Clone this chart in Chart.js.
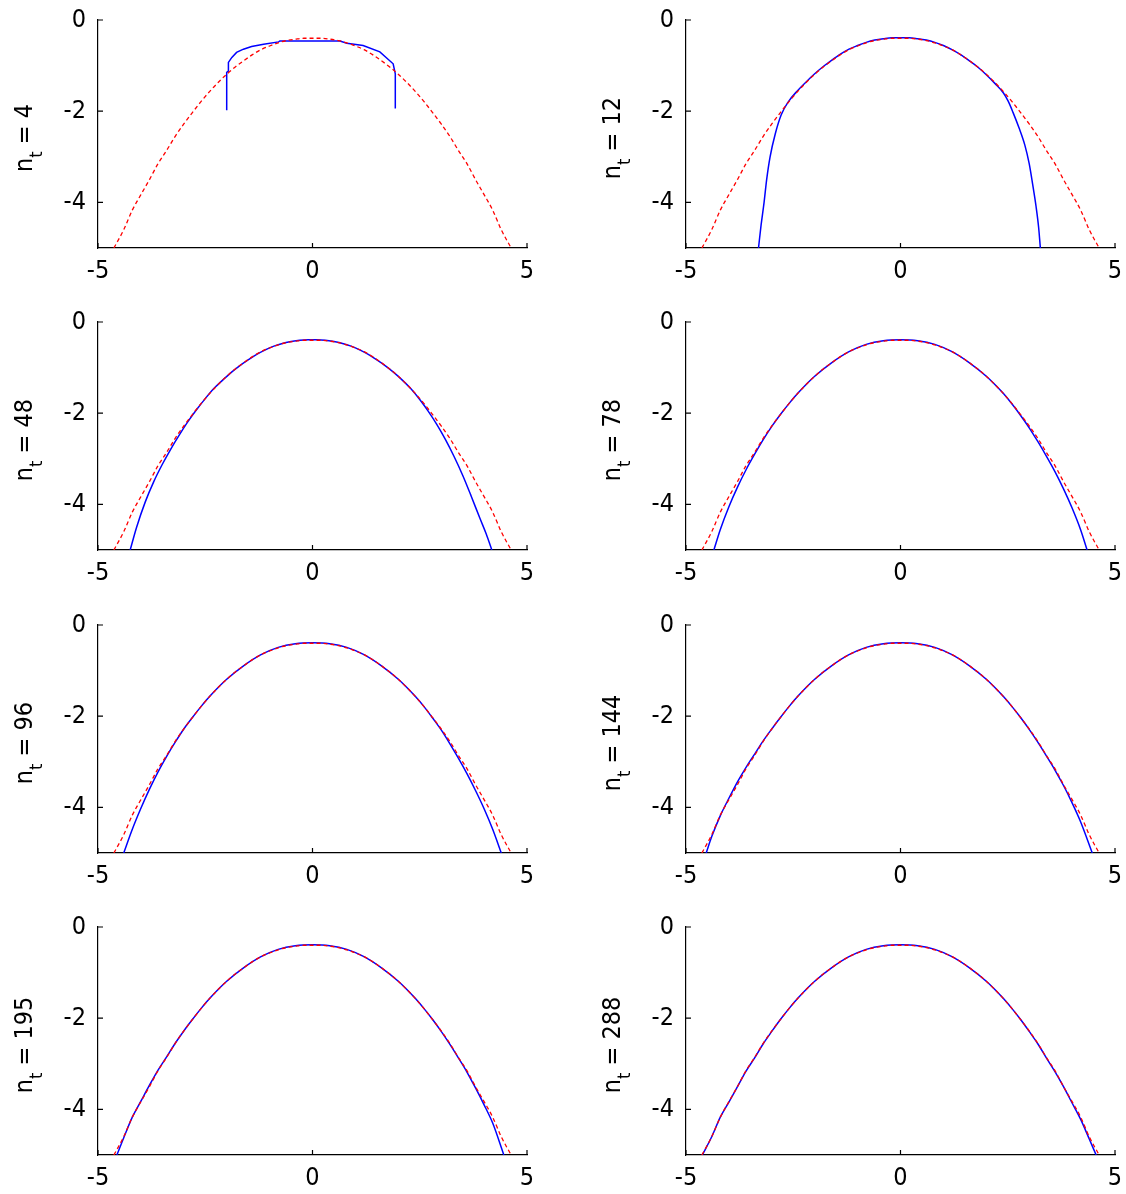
<!DOCTYPE html>
<html>
<head>
<meta charset="utf-8">
<script src="https://cdn.jsdelivr.net/npm/chart.js@4.4.1/dist/chart.umd.min.js"></script>
<style>
  body { margin: 0; background: #fff; width: 1126px; height: 1194px; overflow: hidden; position: relative; }
  canvas { position: absolute; }
</style>
</head>
<body>
<script>
// panel labels (n_t) and axis ticks
var panelLabels = ['4', '12', '48', '78', '96', '144', '195', '288'];
var xTicks = [-5, 0, 5];
var yTicks = [0, -2, -4];

// red dashed reference curve (same in every panel)
var redX = [-4.63,-4.4,-4.2,-4.0,-3.8,-3.6,-3.4,-3.2,-3.0,-2.8,-2.6,-2.4,-2.2,-2.0,-1.8,-1.6,-1.4,-1.2,-1.0,-0.8,-0.6,-0.4,-0.2,0,0.2,0.4,0.6,0.8,1.0,1.2,1.4,1.6,1.8,2.0,2.2,2.4,2.6,2.8,3.0,3.2,3.4,3.6,3.8,4.0,4.2,4.4,4.63];
var redY = [-5.0,-4.6,-4.17,-3.83,-3.5,-3.15,-2.86,-2.55,-2.28,-2.03,-1.79,-1.57,-1.37,-1.19,-1.03,-0.89,-0.76,-0.65,-0.57,-0.50,-0.45,-0.42,-0.40,-0.40,-0.40,-0.42,-0.45,-0.50,-0.57,-0.65,-0.76,-0.89,-1.03,-1.19,-1.37,-1.57,-1.79,-2.03,-2.28,-2.55,-2.86,-3.15,-3.5,-3.83,-4.17,-4.6,-5.0];

// blue estimated curves, one per panel
var blue4X = [-2.0,-2.0,-1.96,-1.96,-1.88,-1.77,-1.61,-1.42,-1.14,-0.79,-0.76,0.64,0.80,1.18,1.57,1.88,1.93,1.93];
var blue4Y = [-1.98,-1.15,-1.12,-0.93,-0.82,-0.71,-0.64,-0.58,-0.53,-0.48,-0.46,-0.46,-0.51,-0.56,-0.70,-0.96,-1.18,-1.94];

var blue12X = [-3.31,-3.25,-3.18,-3.12,-3.04,-2.92,-2.78,-2.62,-2.4,-2.2,-2.0,-1.8,-1.6,-1.4,-1.2,-1.0,-0.8,-0.6,-0.4,-0.2,0,0.2,0.4,0.6,0.8,1.0,1.2,1.4,1.6,1.8,2.0,2.2,2.4,2.51,2.62,2.76,2.9,3.0,3.08,3.16,3.22,3.26];
var blue12Y = [-5.0,-4.5,-4.0,-3.5,-3.0,-2.5,-2.08,-1.8,-1.55,-1.36,-1.18,-1.02,-0.88,-0.75,-0.64,-0.56,-0.49,-0.44,-0.41,-0.39,-0.39,-0.39,-0.41,-0.44,-0.49,-0.56,-0.65,-0.76,-0.89,-1.03,-1.2,-1.39,-1.6,-1.78,-2.02,-2.36,-2.75,-3.15,-3.6,-4.09,-4.55,-5.0];

var blue48X = [-4.25,-4.1,-3.9,-3.7,-3.5,-3.3,-3.1,-2.9,-2.7,-2.5,-2.3,-2.1,-1.9,-1.7,-1.5,-1.3,-1.1,-0.9,-0.7,-0.5,-0.3,-0.1,0.1,0.3,0.5,0.7,0.9,1.1,1.3,1.5,1.7,1.9,2.1,2.3,2.5,2.7,2.9,3.1,3.3,3.5,3.7,3.9,4.05,4.18];
var blue48Y = [-5.0,-4.5,-3.95,-3.5,-3.12,-2.78,-2.47,-2.18,-1.92,-1.68,-1.46,-1.28,-1.11,-0.96,-0.83,-0.71,-0.61,-0.53,-0.47,-0.43,-0.40,-0.39,-0.39,-0.40,-0.43,-0.47,-0.53,-0.61,-0.71,-0.83,-0.96,-1.11,-1.28,-1.47,-1.70,-1.96,-2.25,-2.58,-2.95,-3.36,-3.82,-4.3,-4.65,-5.0];

var blue78X = [-4.35,-4.2,-4.0,-3.8,-3.6,-3.4,-3.2,-3.0,-2.8,-2.6,-2.4,-2.2,-2.0,-1.6,-1.2,-0.8,-0.4,0,0.4,0.8,1.2,1.6,2.0,2.2,2.4,2.6,2.8,3.0,3.2,3.4,3.6,3.8,4.0,4.2,4.35];
var blue78Y = [-5.0,-4.55,-4.05,-3.62,-3.24,-2.9,-2.58,-2.29,-2.03,-1.79,-1.57,-1.37,-1.19,-0.89,-0.65,-0.49,-0.41,-0.39,-0.41,-0.49,-0.65,-0.89,-1.19,-1.37,-1.57,-1.80,-2.05,-2.32,-2.62,-2.94,-3.28,-3.66,-4.08,-4.56,-5.0];

var blue96X = [-4.4,-4.2,-4.0,-3.8,-3.6,-3.4,-3.2,-3.0,-2.8,-2.6,-2.4,-2.2,-2.0,-1.6,-1.2,-0.8,-0.4,0,0.4,0.8,1.2,1.6,2.0,2.2,2.4,2.6,2.8,3.0,3.2,3.4,3.6,3.8,4.0,4.2,4.4];
var blue96Y = [-5.0,-4.48,-4.02,-3.6,-3.22,-2.88,-2.57,-2.28,-2.03,-1.79,-1.57,-1.37,-1.19,-0.89,-0.65,-0.49,-0.41,-0.39,-0.41,-0.49,-0.65,-0.89,-1.19,-1.37,-1.57,-1.79,-2.04,-2.30,-2.60,-2.92,-3.26,-3.63,-4.03,-4.48,-5.0];

var blue144X = [-4.53,-4.4,-4.2,-4.0,-3.8,-3.6,-3.4,-3.2,-3.0,-2.8,-2.6,-2.4,-2.2,-2.0,-1.6,-1.2,-0.8,-0.4,0,0.4,0.8,1.2,1.6,2.0,2.2,2.4,2.6,2.8,3.0,3.2,3.4,3.6,3.8,4.0,4.2,4.47];
var blue144Y = [-5.0,-4.64,-4.18,-3.8,-3.44,-3.12,-2.83,-2.54,-2.28,-2.03,-1.79,-1.57,-1.37,-1.19,-0.89,-0.65,-0.49,-0.41,-0.39,-0.41,-0.49,-0.65,-0.89,-1.19,-1.37,-1.57,-1.79,-2.03,-2.29,-2.57,-2.87,-3.18,-3.52,-3.9,-4.32,-5.0];

var blue195X = [-4.56,-4.4,-4.2,-4.0,-3.8,-3.6,-3.4,-3.2,-3.0,-2.8,-2.6,-2.4,-2.2,-2.0,-1.6,-1.2,-0.8,-0.4,0,0.4,0.8,1.2,1.6,2.0,2.2,2.4,2.6,2.8,3.0,3.2,3.4,3.6,3.8,4.0,4.2,4.46];
var blue195Y = [-5.0,-4.62,-4.17,-3.82,-3.47,-3.14,-2.85,-2.55,-2.28,-2.03,-1.79,-1.57,-1.37,-1.19,-0.89,-0.65,-0.49,-0.41,-0.39,-0.41,-0.49,-0.65,-0.89,-1.19,-1.37,-1.57,-1.79,-2.03,-2.29,-2.57,-2.87,-3.18,-3.53,-3.9,-4.3,-5.0];

var blue288X = [-4.62,-4.4,-4.2,-4.0,-3.8,-3.6,-3.4,-3.2,-3.0,-2.8,-2.6,-2.4,-2.2,-2.0,-1.6,-1.2,-0.8,-0.4,0,0.4,0.8,1.2,1.6,2.0,2.2,2.4,2.6,2.8,3.0,3.2,3.4,3.6,3.8,4.0,4.2,4.4,4.56];
var blue288Y = [-5.0,-4.6,-4.17,-3.84,-3.5,-3.16,-2.87,-2.56,-2.29,-2.03,-1.79,-1.57,-1.37,-1.19,-0.89,-0.65,-0.49,-0.41,-0.39,-0.41,-0.49,-0.65,-0.89,-1.19,-1.37,-1.57,-1.79,-2.03,-2.29,-2.56,-2.87,-3.17,-3.5,-3.86,-4.22,-4.65,-5.0];

var blueX = [blue4X, blue12X, blue48X, blue78X, blue96X, blue144X, blue195X, blue288X];
var blueY = [blue4Y, blue12Y, blue48Y, blue78Y, blue96Y, blue144Y, blue195Y, blue288Y];

var FONT = "'Liberation Sans Narrow', 'DejaVu Sans Condensed', 'Liberation Sans', Arial, sans-serif";
var canvasTops = [0, 302, 605, 907];
var canvasLefts = [0, 588];
var CW = 560, CH = 287;

function pts(xs, ys) {
  return xs.map(function(x, i) { return { x: x, y: ys[i] }; });
}

// inward tick marks + rotated "n_t = .." label
var panelDeco = {
  id: 'panelDeco',
  afterDraw: function(chart, args, opts) {
    var ctx = chart.ctx, a = chart.chartArea;
    var sx = chart.scales.x, sy = chart.scales.y;
    ctx.save();
    ctx.strokeStyle = '#000';
    ctx.lineWidth = 1.2;
    ctx.beginPath();
    xTicks.forEach(function(v) {
      var px = sx.getPixelForValue(v);
      ctx.moveTo(px, a.bottom); ctx.lineTo(px, a.bottom - 5);
    });
    yTicks.forEach(function(v) {
      var py = sy.getPixelForValue(v);
      ctx.moveTo(a.left, py); ctx.lineTo(a.left + 5, py);
    });
    ctx.stroke();

    var big = '25px ' + FONT, small = '18px ' + FONT;
    ctx.translate(32, (a.top + a.bottom) / 2 + 4);
    ctx.rotate(-Math.PI / 2);
    ctx.fillStyle = '#000';
    ctx.textBaseline = 'alphabetic';
    ctx.font = big;
    var wn = ctx.measureText('n').width;
    var rest = ' = ' + opts.label;
    var wr = ctx.measureText(rest).width;
    ctx.font = small;
    var wt = ctx.measureText('t').width;
    var x0 = -(wn + wt + wr) / 2;
    ctx.font = big; ctx.fillText('n', x0, 0);
    ctx.font = small; ctx.fillText('t', x0 + wn, 10);
    ctx.font = big; ctx.fillText(rest, x0 + wn + wt, 0);
    ctx.restore();
  }
};

panelLabels.forEach(function(lbl, i) {
  var cv = document.createElement('canvas');
  cv.width = CW;
  cv.height = CH;
  cv.style.width = CW + 'px';
  cv.style.height = CH + 'px';
  cv.style.left = canvasLefts[i % 2] + 'px';
  cv.style.top = canvasTops[Math.floor(i / 2)] + 'px';
  document.body.appendChild(cv);

  var smooth = i === 0 ? 'default' : 'monotone';

  new Chart(cv, {
    type: 'line',
    data: {
      datasets: [
        {
          data: pts(redX, redY),
          borderColor: '#ff0000',
          borderWidth: 1.3,
          borderDash: [4, 3],
          pointRadius: 0,
          cubicInterpolationMode: 'monotone',
          fill: false
        },
        {
          data: pts(blueX[i], blueY[i]),
          borderColor: '#0000ff',
          borderWidth: 1.5,
          pointRadius: 0,
          tension: 0,
          cubicInterpolationMode: smooth,
          fill: false
        }
      ]
    },
    options: {
      responsive: false,
      animation: false,
      events: [],
      layout: { padding: { top: 20, right: 33, left: 0, bottom: 0 } },
      plugins: {
        legend: { display: false },
        tooltip: { enabled: false },
        panelDeco: { label: lbl }
      },
      scales: {
        x: {
          type: 'linear', min: -5, max: 5,
          afterBuildTicks: function(s) { s.ticks = xTicks.map(function(v) { return { value: v }; }); },
          afterFit: function(s) { s.height = 39; s.paddingLeft = 0; s.paddingRight = 0; },
          grid: { display: false, drawTicks: false },
          border: { display: true, color: '#000', width: 1.2 },
          ticks: { color: '#000', font: { family: FONT, size: 25 }, padding: 8, maxRotation: 0, autoSkip: false }
        },
        y: {
          type: 'linear', min: -5, max: 0,
          afterBuildTicks: function(s) { s.ticks = yTicks.map(function(v) { return { value: v }; }); },
          afterFit: function(s) { s.width = 98; s.paddingTop = 0; s.paddingBottom = 0; },
          grid: { display: false, drawTicks: false },
          border: { display: true, color: '#000', width: 1.2 },
          ticks: { color: '#000', font: { family: FONT, size: 25 }, padding: 12, autoSkip: false }
        }
      }
    },
    plugins: [panelDeco]
  });
});
</script>
</body>
</html>
